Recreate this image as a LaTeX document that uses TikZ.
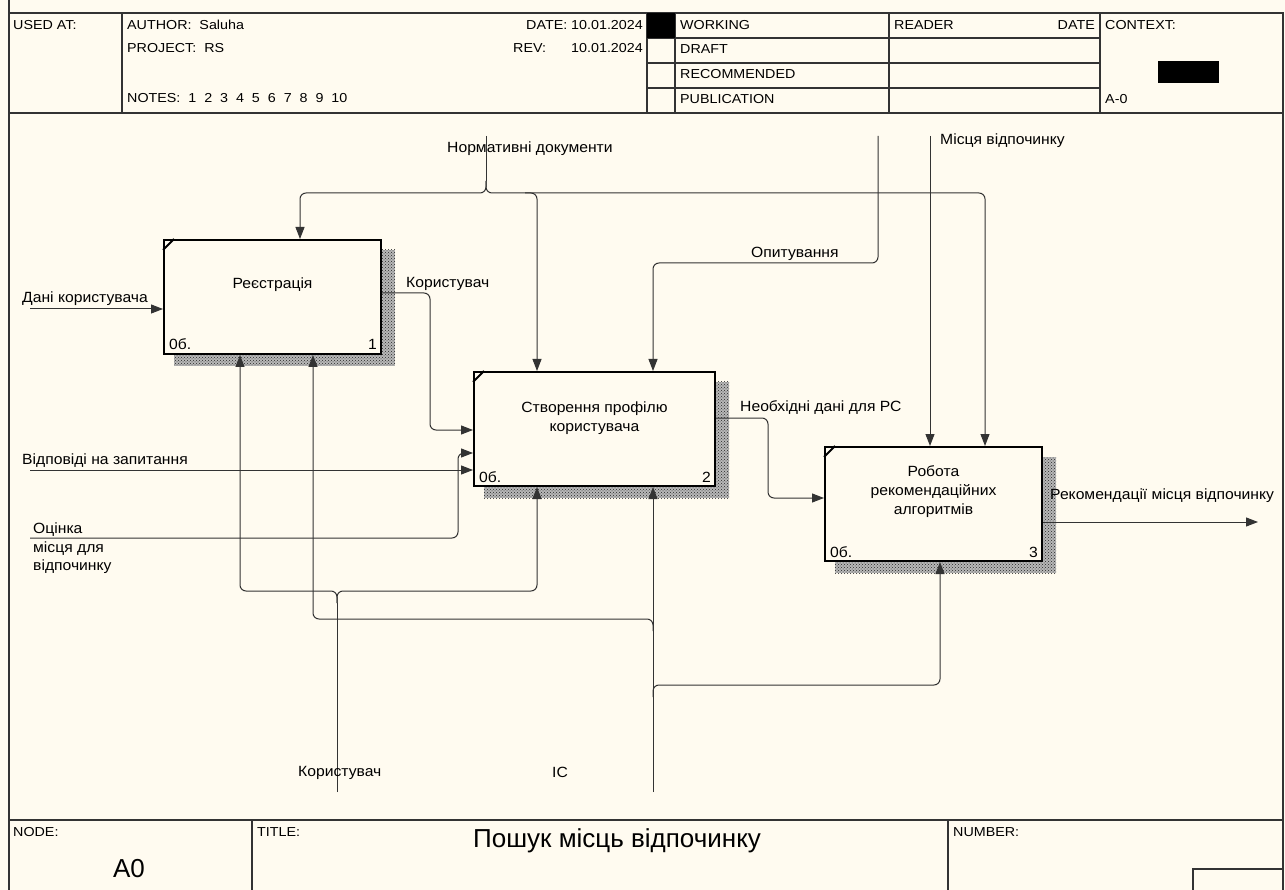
\documentclass[tikz,border=0pt]{standalone}
\usepackage{fontspec}
\setmainfont{Liberation Sans}
\newfontfamily\wide[FakeStretch=1.06]{Liberation Sans}
\newfontfamily\hwide[FakeStretch=1.1]{Liberation Sans}
\usetikzlibrary{arrows.meta,patterns,backgrounds,calc}
\definecolor{paper}{HTML}{FFFBF0}
\definecolor{ink}{HTML}{333333}
\begin{document}
\begin{tikzpicture}[x=1pt,y=-1pt,
  frame/.style={draw=ink,line width=1.3pt},
  con/.style={draw=ink,line width=1pt,rounded corners=6pt},
  arr/.style={con,-{Triangle[length=12pt,width=9pt]}},
  hdr/.style={font=\hwide\fontsize{13}{15}\selectfont,inner sep=0pt,anchor=base west},
  lbl/.style={font=\wide\fontsize{14.8}{17}\selectfont,inner sep=0pt,anchor=base west},
  boxtext/.style={font=\wide\fontsize{14.8}{19}\selectfont,inner sep=0pt,align=center},
  actbox/.style={draw=black,line width=2pt,fill=paper,inner sep=0pt,rectangle},
  shadebase/.style={fill=black!28},
  shade/.style={pattern=crosshatch dots,pattern color=black!85},
  tick/.style={draw=black,line width=2pt}]
\useasboundingbox (0,0) rectangle (1285,890);
\begin{scope}[on background layer]
  \fill[paper] (0,0) rectangle (1285,890);
\end{scope}

% ---------- frame / header ----------
\draw[frame] (9,0) -- (9,890);
\draw[frame] (9,13) -- (1283,13) -- (1283,890);
\draw[frame] (9,113) -- (1283,113);
\foreach \xx in {122,647,675,889,1100} \draw[frame] (\xx,13) -- (\xx,113);
\foreach \yy in {38,63,88} \draw[frame] (647,\yy) -- (1100,\yy);
\fill[black] (647,13) rectangle (675,38);
\fill[black] (1158,61) rectangle (1219,83);

\node[hdr] (h1) at (13,30) {USED AT:};
\node[hdr] (h2) at (127,30) {AUTHOR:\ \ Saluha};
\node[hdr] (h3) at (127,53) {PROJECT:\ \ RS};
\node[hdr] (h4) at (127,103) {NOTES:\ \ 1\ \ 2\ \ 3\ \ 4\ \ 5\ \ 6\ \ 7\ \ 8\ \ 9\ \ 10};
\node[hdr,anchor=base east] (h5) at (643,30) {DATE:\ 10.01.2024};
\node[hdr] (h6) at (513,53) {REV:};
\node[hdr,anchor=base east] (h7) at (643,53) {10.01.2024};
\node[hdr] (h8) at (680,30) {WORKING};
\node[hdr] (h9) at (680,54) {DRAFT};
\node[hdr] (h10) at (680,79) {RECOMMENDED};
\node[hdr] (h11) at (680,104) {PUBLICATION};
\node[hdr] (h12) at (894,30) {READER};
\node[hdr,anchor=base east] (h13) at (1095,30) {DATE};
\node[hdr] (h14) at (1105,30) {CONTEXT:};
\node[hdr] (h15) at (1105,104) {A-0};

% ---------- bottom block ----------
\draw[frame] (9,820) -- (1283,820);
\draw[frame] (252,820) -- (252,890);
\draw[frame] (948,820) -- (948,890);
\draw[frame] (1193,890) -- (1193,869) -- (1283,869);
\node[hdr] (f1) at (13,836) {NODE:};
\node[hdr] (f2) at (257,836) {TITLE:};
\node[hdr] (f3) at (953,836) {NUMBER:};
\node[inner sep=0pt,anchor=base,font=\fontsize{26}{30}\selectfont] (f4) at (129,877) {A0};
\node[inner sep=0pt,anchor=base west,font=\fontsize{26}{30}\selectfont] (f5) at (473,847) {Пошук місць відпочинку};

% ---------- activity boxes ----------
\node[actbox,minimum width=217pt,minimum height=114pt] (b1) at (272.5,297) {};
\node[actbox,minimum width=241pt,minimum height=114pt] (b2) at (594.5,429) {};
\node[actbox,minimum width=217pt,minimum height=114pt] (b3) at (933.5,504) {};

\begin{scope}[on background layer]
  \foreach \b in {b1,b2,b3}{
    \fill[shadebase] ($(\b.north west)+(11,11)$) rectangle ($(\b.south east)+(13,11)$);
    \fill[shade] ($(\b.north west)+(11,11)$) rectangle ($(\b.south east)+(13,11)$);
  }
\end{scope}

\foreach \b in {b1,b2,b3}
  \draw[tick] ($(\b.north west)+(0,11)$) -- ($(\b.north west)+(11,0)$);

\node[boxtext] (t1) at (272.5,285) {Реєстрація};
\node[boxtext] (t2) at (594.5,418) {Створення профілю\\користувача};
\node[boxtext] (t3) at (933.5,492) {Робота\\рекомендаційних\\алгоритмів};

\node[lbl] (c1) at ($(b1.south west)+(6,-5)$) {0б.};
\node[lbl,anchor=base east] (n1l) at ($(b1.south east)+(-5,-5)$) {1};
\node[lbl] (c2) at ($(b2.south west)+(6,-5)$) {0б.};
\node[lbl,anchor=base east] (n2l) at ($(b2.south east)+(-5,-5)$) {2};
\node[lbl] (c3) at ($(b3.south west)+(6,-5)$) {0б.};
\node[lbl,anchor=base east] (n3l) at ($(b3.south east)+(-5,-5)$) {3};

% ---------- free ends and routing points ----------
\coordinate (dk) at (30,309);
\coordinate (vz) at (30,470);
\coordinate (oc) at (30,538);
\coordinate (nd) at (486,136);
\coordinate (op) at (878,136);
\coordinate (mv) at (930,136);
\coordinate (km) at (337,792);
\coordinate (is) at (653,792);
\coordinate (rc) at (1258,522);

\coordinate (j0) at (486,181);
\coordinate (j1) at (486,193);
\coordinate (q1) at (300,193);
\coordinate (q2a) at (525,193);
\coordinate (q2) at (537,193);
\coordinate (q3) at (985,193);
\coordinate (k1) at (430,293);
\coordinate (k2) at (430,430);
\coordinate (o1) at (458,538);
\coordinate (o2) at (458,453);
\coordinate (p1) at (878,263);
\coordinate (p2) at (653,263);
\coordinate (e1) at (768,418);
\coordinate (e2) at (768,498);
\coordinate (m00) at (337,603);
\coordinate (m0) at (337,591);
\coordinate (m1) at (240,591);
\coordinate (m2) at (537,591);
\coordinate (s0) at (653,631);
\coordinate (s1) at (653,619);
\coordinate (s2) at (313,619);
\coordinate (s30) at (653,697);
\coordinate (s3) at (653,685);
\coordinate (s4) at (940,685);

% ---------- connectors ----------
\draw[arr] (dk) -- (dk -| b1.west);
\draw[arr] (vz) -- (vz -| b2.west);
\draw[arr] (oc) -- (o1) -- (o2) -- (o2 -| b2.west);
\draw[con] (nd) -- (j0);
\draw[arr] (j0) -- (j1) -- (q1) -- (q1 |- b1.north);
\draw[arr] (j0) -- (j1) -- (q3) -- (q3 |- b3.north);
\draw[arr] (q2a) -- (q2) -- (q2 |- b2.north);
\draw[arr] (k1 -| b1.east) -- (k1) -- (k2) -- (k2 -| b2.west);
\draw[arr] (op) -- (p1) -- (p2) -- (p2 |- b2.north);
\draw[arr] (mv) -- (mv |- b3.north);
\draw[arr] (e1 -| b2.east) -- (e1) -- (e2) -- (e2 -| b3.west);
\draw[arr] (rc -| b3.east) -- (rc);
\draw[con] (km) -- (m00);
\draw[arr] (m00) -- (m0) -- (m1) -- (m1 |- b1.south);
\draw[arr] (m00) -- (m0) -- (m2) -- (m2 |- b2.south);
\draw[arr] (is) -- (is |- b2.south);
\draw[arr] (s0) -- (s1) -- (s2) -- (s2 |- b1.south);
\draw[arr] (s30) -- (s3) -- (s4) -- (s4 |- b3.south);

% ---------- connector labels ----------
\node[lbl] (L1) at (22,303) {Дані користувача};
\node[lbl] (L2) at (447,153) {Нормативні документи};
\node[lbl] (L3) at (751,258) {Опитування};
\node[lbl] (L4) at (940,145) {Місця відпочинку};
\node[lbl] (L5) at (406,288) {Користувач};
\node[lbl] (L6) at (740,412) {Необхідні дані для РС};
\node[lbl] (L7) at (22,464) {Відповіді на запитання};
\node[lbl] (L8a) at (33,533) {Оцінка};
\node[lbl] (L8b) at (33,552) {місця для};
\node[lbl] (L8c) at (33,570) {відпочинку};
\node[lbl] (L9) at (1050,499) {Рекомендації місця відпочинку};
\node[lbl] (L10) at (298,776) {Користувач};
\node[lbl] (L11) at (552,777) {ІС};
\end{tikzpicture}
\end{document}
